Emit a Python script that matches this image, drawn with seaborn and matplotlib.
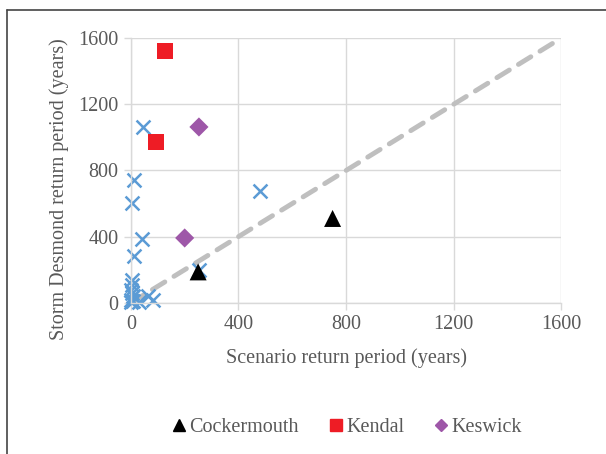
import numpy as np
import pandas as pd
import matplotlib.pyplot as plt
import seaborn as sns
from matplotlib.lines import Line2D

# --------------------------------------------------
# Data
# --------------------------------------------------
sites = ["Cockermouth", "Kendal", "Keswick"]
site_x = {"Cockermouth": [250, 750], "Kendal": [126, 93], "Keswick": [253, 200]}
site_y = {"Cockermouth": [187, 510], "Kendal": [1522, 972], "Keswick": [1063, 392]}

other_x = [45, 11, 4, 41, 11, 480, 253, 3, 5, 2, 4, 6, 1, 2, 8, 63, 82, 30]
other_y = [1063, 743, 604, 386, 284, 676, 200, 139, 109, 80, 60, 40, 20, 5, 10, 42, 18, 5]

ticks = [0, 400, 800, 1200, 1600]

rows = []
for s in sites:
    for xv, yv in zip(site_x[s], site_y[s]):
        rows.append({"scenario": xv, "desmond": yv, "site": s})
df = pd.DataFrame(rows)
df_other = pd.DataFrame({"scenario": other_x, "desmond": other_y})

palette = {"Cockermouth": "#000000", "Kendal": "#ee1c25", "Keswick": "#9e57a8"}
markers = {"Cockermouth": "^", "Kendal": "s", "Keswick": "D"}
sizes = {"Cockermouth": 150, "Kendal": 130, "Keswick": 95}

# --------------------------------------------------
# Plot
# --------------------------------------------------
sns.set_theme(style="white")
plt.rcParams["font.family"] = ["Liberation Serif", "DejaVu Serif"]

fig = plt.figure(figsize=(6.06, 4.54), dpi=100)
ax = fig.add_axes([0.216, 0.333, 0.710, 0.583])

# 1:1 line
ax.plot([0, 1600], [0, 1600], color="#bfbfbf", lw=3.5, ls=(0, (3, 2.2)),
        solid_capstyle="round", dash_capstyle="round", zorder=1)

sns.scatterplot(data=df_other, x="scenario", y="desmond", ax=ax, marker="x",
                color="#5b9bd5", s=100, linewidth=1.8, legend=False, zorder=2,
                clip_on=False)

for s in sites:
    sub = df[df["site"] == s]
    sns.scatterplot(data=sub, x="scenario", y="desmond", ax=ax,
                    marker=markers[s], color=palette[s], s=sizes[s],
                    edgecolor="none", label=s, zorder=3, clip_on=False)

ax.set_xlim(0, 1600)
ax.set_ylim(0, 1600)
ax.set_xticks(ticks)
ax.set_yticks(ticks)
ax.grid(True, color="#d9d9d9", lw=1)
ax.set_axisbelow(True)
for side in ["top", "right"]:
    ax.spines[side].set_visible(False)
for side in ["left", "bottom"]:
    ax.spines[side].set_color("#d9d9d9")
    ax.spines[side].set_linewidth(1)
ax.tick_params(axis="both", which="both", length=5, width=1, color="#d9d9d9",
               labelcolor="#595959", labelsize=14.5, pad=4, direction="out",
               bottom=True, left=True)

ax.set_xlabel("Scenario return period (years)", fontsize=14.5, color="#595959", labelpad=10)
ax.set_ylabel("Storm Desmond return period (years)", fontsize=14.5, color="#595959")
ax.yaxis.set_label_coords(-0.145, 0.43)

handles = [Line2D([], [], ls="none", marker=markers[s], color=palette[s],
                  markersize=8 if s != "Keswick" else 6.5) for s in sites]
ax.legend(handles, sites, loc="upper center", bbox_to_anchor=(0.5, -0.365),
          ncol=3, frameon=False, fontsize=14.5, handletextpad=0.05,
          columnspacing=1.4, handlelength=0.9, labelcolor="#595959")

# chart frame (left and top edges as in the reference)
fig.add_artist(Line2D([0.0116, 0.0116], [0.0, 0.978], color="#444444", lw=1.2,
                      transform=fig.transFigure))
fig.add_artist(Line2D([0.0116, 1.0], [0.978, 0.978], color="#444444", lw=1.2,
                      transform=fig.transFigure))

fig.savefig("out.png", dpi=100)
plt.close(fig)
